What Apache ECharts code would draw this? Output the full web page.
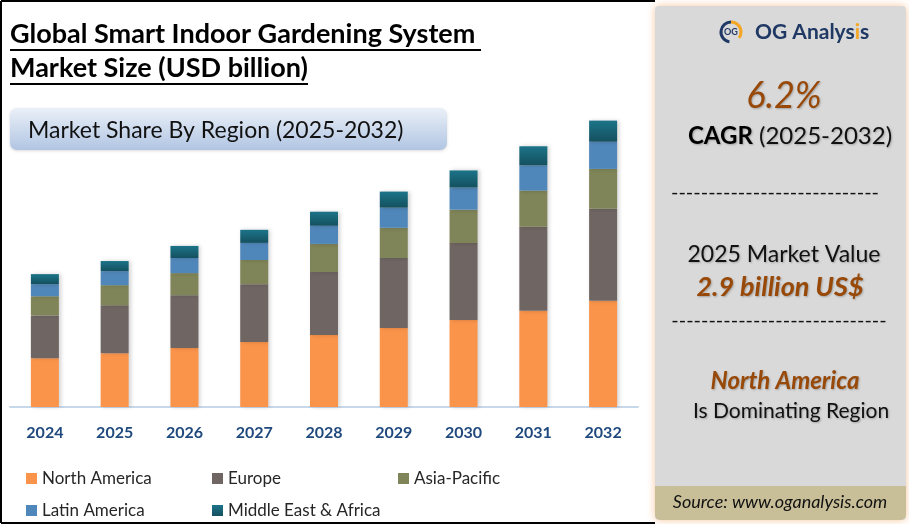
<!DOCTYPE html>
<html>
<head>
<meta charset="utf-8">
<script src="https://cdn.jsdelivr.net/npm/echarts@6/dist/echarts.min.js"></script>
<style>
  html, body { margin: 0; padding: 0; background: #fff; }
  #chart { width: 909px; height: 524px; }
</style>
</head>
<body>
<div id="chart"></div>
<script>
// years on the x axis
const years = ['2024', '2025', '2026', '2027', '2028', '2029', '2030', '2031', '2032'];

// market size by region, USD billion
const northAmerica = [0.97, 1.07, 1.17, 1.29, 1.43, 1.57, 1.73, 1.91, 2.11];
const europe = [0.85, 0.95, 1.05, 1.15, 1.25, 1.39, 1.53, 1.67, 1.83];
const asiaPacific = [0.38, 0.40, 0.44, 0.48, 0.56, 0.60, 0.66, 0.72, 0.79];
const latinAmerica = [0.24, 0.28, 0.30, 0.34, 0.36, 0.40, 0.44, 0.50, 0.54];
const middleEastAfrica = [0.20, 0.20, 0.24, 0.26, 0.28, 0.32, 0.34, 0.38, 0.42];

const regionNames = ['North America', 'Europe', 'Asia-Pacific', 'Latin America', 'Middle East & Africa'];

const FONT = 'Lato, "Open Sans", sans-serif';
const BROWN = '#984807';

const chart = echarts.init(document.getElementById('chart'));

// common bar look
function barStyle(color) {
  return {
    color: color,
    shadowColor: 'rgba(0,0,0,0.18)',
    shadowBlur: 4,
    shadowOffsetX: 2,
  };
}

const tealGradient = new echarts.graphic.LinearGradient(0, 0, 0, 1, [
  { offset: 0, color: '#1c7489' },
  { offset: 1, color: '#14505f' },
]);

const panelTextShadow = {
  textShadowColor: 'rgba(0,0,0,0.25)',
  textShadowBlur: 2,
  textShadowOffsetX: 1,
  textShadowOffsetY: 1,
};

const option = {
  backgroundColor: '#ffffff',
  animation: false,
  grid: { left: 10, right: 271, top: 105, bottom: 117 },
  xAxis: {
    type: 'category',
    data: years,
    axisTick: { show: false },
    axisLine: { lineStyle: { color: '#c8d8eb', width: 2 } },
    axisLabel: {
      margin: 18,
      color: '#1f497d',
      fontFamily: FONT,
      fontWeight: 'bold',
      fontSize: 16,
    },
  },
  yAxis: {
    type: 'value',
    min: 0,
    max: 6,
    show: false,
  },
  legend: {
    data: regionNames,
    left: 26,
    top: 470,
    padding: 0,
    width: 600,
    itemWidth: 11,
    itemHeight: 11,
    itemGap: 15,
    icon: 'rect',
    textStyle: {
      fontFamily: FONT,
      fontSize: 17,
      color: '#262626',
      width: 155,
      lineHeight: 15,
      overflow: 'truncate',
    },
  },
  series: [
    { name: 'North America', type: 'bar', stack: 'total', barWidth: 28, data: northAmerica, itemStyle: barStyle('#fa944b') },
    { name: 'Europe', type: 'bar', stack: 'total', barWidth: 28, data: europe, itemStyle: barStyle('#6f6562') },
    { name: 'Asia-Pacific', type: 'bar', stack: 'total', barWidth: 28, data: asiaPacific, itemStyle: barStyle('#7f8558') },
    { name: 'Latin America', type: 'bar', stack: 'total', barWidth: 28, data: latinAmerica, itemStyle: barStyle('#5087ba') },
    { name: 'Middle East & Africa', type: 'bar', stack: 'total', barWidth: 28, data: middleEastAfrica, itemStyle: Object.assign(barStyle('#1a6a7e'), { color: tealGradient }) },
  ],
  graphic: [
    // outer frame (left part)
    { type: 'line', shape: { x1: 1, y1: 1, x2: 655, y2: 1 }, style: { stroke: '#000', lineWidth: 2 }, z: 10 },
    { type: 'line', shape: { x1: 1, y1: 1, x2: 1, y2: 523 }, style: { stroke: '#000', lineWidth: 2 }, z: 10 },
    { type: 'line', shape: { x1: 1, y1: 523, x2: 655, y2: 523 }, style: { stroke: '#000', lineWidth: 2 }, z: 10 },

    // title
    {
      type: 'text', left: 10, top: 21, z: 10,
      style: { text: 'Global Smart Indoor Gardening System', font: 'bold 27px ' + FONT, fill: '#000' },
    },
    { type: 'line', shape: { x1: 10, y1: 50, x2: 481, y2: 50 }, style: { stroke: '#000', lineWidth: 2 }, z: 10 },
    {
      type: 'text', left: 10, top: 55, z: 10,
      style: { text: 'Market Size (USD billion)', font: 'bold 27px ' + FONT, fill: '#000' },
    },
    { type: 'line', shape: { x1: 10, y1: 84, x2: 308, y2: 84 }, style: { stroke: '#000', lineWidth: 2 }, z: 10 },

    // subtitle box
    {
      type: 'rect', z: 5,
      shape: { x: 10, y: 108, width: 437, height: 42, r: 7 },
      style: {
        fill: new echarts.graphic.LinearGradient(0, 0, 0, 1, [
          { offset: 0, color: '#eaf0f8' },
          { offset: 1, color: '#b1c5e3' },
        ]),
        shadowColor: 'rgba(0,0,0,0.15)',
        shadowBlur: 3,
        shadowOffsetY: 1,
      },
    },
    {
      type: 'text', x: 28, y: 131, z: 6,
      style: { text: 'Market Share By Region (2025-2032)', font: '23px ' + FONT, fill: '#111', verticalAlign: 'middle' },
    },

    // right panel
    {
      type: 'rect', z: 1,
      shape: { x: 655, y: 6, width: 251, height: 514, r: 4 },
      style: { fill: '#d9d9d9', shadowColor: '#f7c79c', shadowBlur: 9 },
    },
    {
      type: 'rect', z: 2,
      shape: { x: 655, y: 486, width: 251, height: 34, r: [0, 0, 5, 5] },
      style: { fill: '#c8bf98' },
    },

    // logo
    {
      type: 'arc', z: 3,
      shape: { cx: 731, cy: 32, r: 10, startAngle: Math.PI * 0.55, endAngle: Math.PI * 1.5 },
      style: { stroke: '#1f3864', lineWidth: 3, fill: null },
    },
    {
      type: 'arc', z: 3,
      shape: { cx: 731, cy: 32, r: 10, startAngle: Math.PI * 1.5, endAngle: Math.PI * 2.2 },
      style: { stroke: '#f5a623', lineWidth: 3, fill: null },
    },
    {
      type: 'text', x: 731, y: 32, z: 4,
      style: { text: 'OG', font: 'bold 9px ' + FONT, fill: '#1f3864', align: 'center', verticalAlign: 'middle' },
    },
    {
      type: 'text', x: 755, y: 32, z: 4,
      style: {
        text: '{a|OG Analys}{b|i}{a|s}',
        verticalAlign: 'middle',
        rich: {
          a: { font: 'bold 21px ' + FONT, fill: '#1f3864' },
          b: { font: 'bold 21px ' + FONT, fill: '#f5a623' },
        },
      },
    },

    // CAGR
    {
      type: 'text', x: 784, y: 96, z: 4,
      style: Object.assign({ text: '6.2%', font: 'italic 36px ' + FONT, fill: BROWN, align: 'center', verticalAlign: 'middle' }, panelTextShadow),
    },
    {
      type: 'text', x: 790, y: 136, z: 4,
      style: Object.assign({
        text: '{b|CAGR}{n| (2025-2032)}',
        align: 'center', verticalAlign: 'middle',
        rich: {
          b: { font: 'bold 24px ' + FONT, fill: '#000' },
          n: { font: '24px ' + FONT, fill: '#111' },
        },
      }, panelTextShadow),
    },
    {
      type: 'text', x: 775, y: 193, z: 4,
      style: { text: '----------------------------', font: '20px ' + FONT, fill: '#111', align: 'center', verticalAlign: 'middle' },
    },

    // 2025 market value
    {
      type: 'text', x: 784, y: 255, z: 4,
      style: Object.assign({ text: '2025 Market Value', font: '23px ' + FONT, fill: '#111', align: 'center', verticalAlign: 'middle' }, panelTextShadow),
    },
    {
      type: 'text', x: 780, y: 287, z: 4,
      style: Object.assign({ text: '2.9 billion US$', font: 'italic bold 27px ' + FONT, fill: BROWN, align: 'center', verticalAlign: 'middle' }, panelTextShadow),
    },
    {
      type: 'text', x: 779, y: 321, z: 4,
      style: { text: '-----------------------------', font: '20px ' + FONT, fill: '#111', align: 'center', verticalAlign: 'middle' },
    },

    // dominating region
    {
      type: 'text', x: 785, y: 381, z: 4,
      style: Object.assign({ text: 'North America', font: 'italic bold 24px ' + FONT, fill: BROWN, align: 'center', verticalAlign: 'middle' }, panelTextShadow),
    },
    {
      type: 'text', x: 791, y: 411, z: 4,
      style: Object.assign({ text: 'Is Dominating Region', font: '21px ' + FONT, fill: '#111', align: 'center', verticalAlign: 'middle' }, panelTextShadow),
    },

    // source
    {
      type: 'text', x: 780, y: 502, z: 4,
      style: { text: 'Source: www.oganalysis.com', font: 'italic 18px ' + FONT, fill: '#111', align: 'center', verticalAlign: 'middle' },
    },
  ],
};

chart.setOption(option);
</script>
</body>
</html>
